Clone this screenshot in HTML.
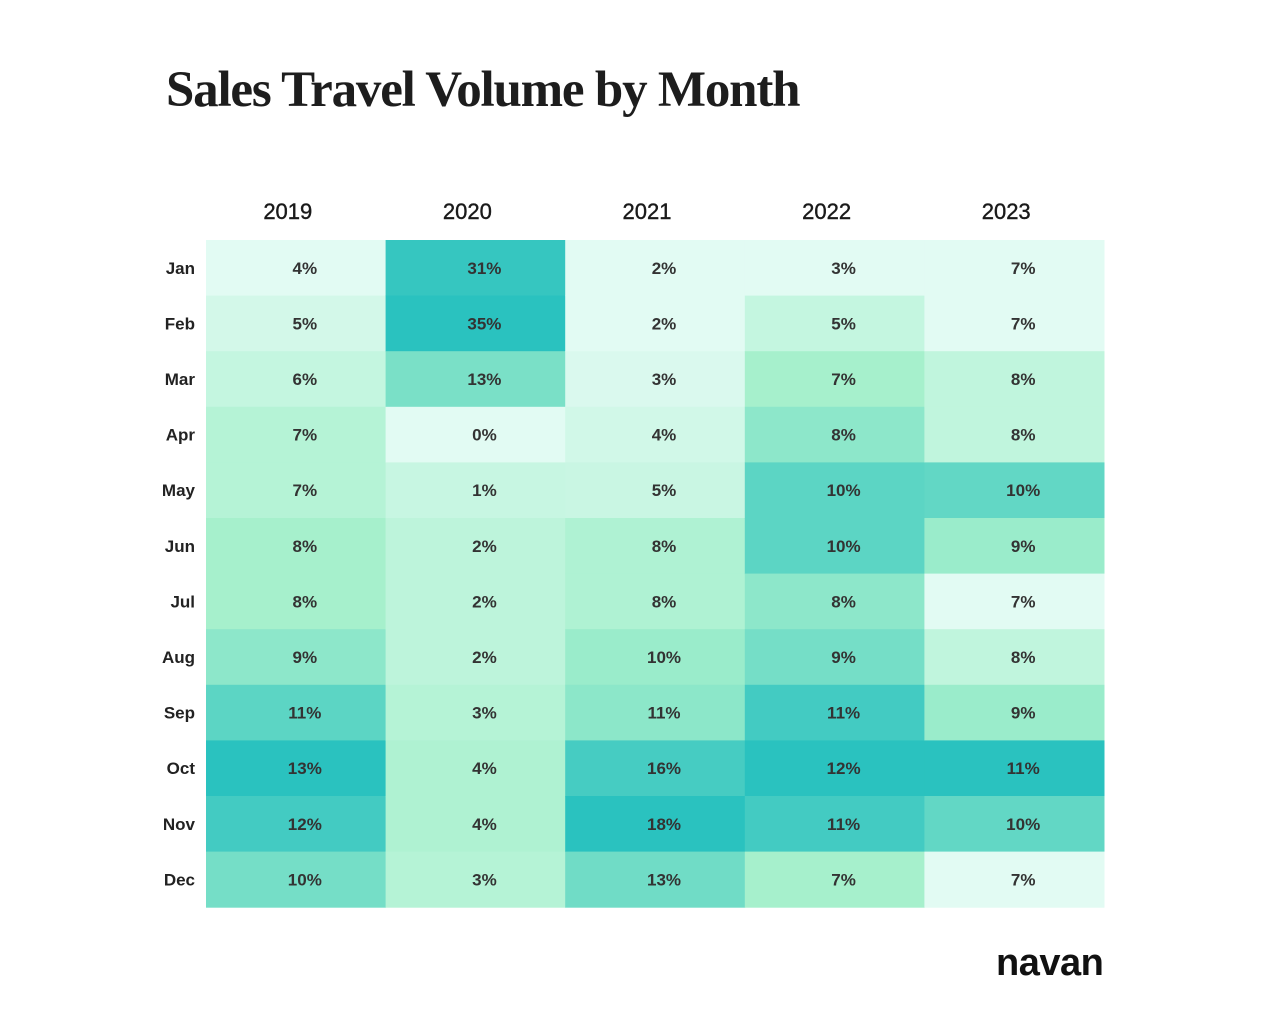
<!DOCTYPE html>
<html><head><meta charset="utf-8"><style>
body{margin:0;background:#fff;width:1268px;height:1021px;overflow:hidden;font-family:"Liberation Sans",sans-serif}
#title{position:absolute;left:166px;top:61px;font-family:"Liberation Serif",serif;font-weight:bold;font-size:51px;letter-spacing:-1.2px;color:#1d1d1d;margin:0}
#logo{position:absolute;left:996px;top:942px;font-size:38px;font-weight:bold;letter-spacing:-0.5px;color:#111}
</style></head><body>
<h1 id="title">Sales Travel Volume by Month</h1>
<svg id="chart" width="1268" height="1021" style="position:absolute;left:0;top:0"></svg>
<div id="logo">navan</div>
<script>
const years=["2019","2020","2021","2022","2023"];
const months=["Jan","Feb","Mar","Apr","May","Jun","Jul","Aug","Sep","Oct","Nov","Dec"];
const v2019=[4,5,6,7,7,8,8,9,11,13,12,10];
const v2020=[31,35,13,0,1,2,2,2,3,4,4,3];
const v2021=[2,2,3,4,5,8,8,10,11,16,18,13];
const v2022=[3,5,7,8,10,10,8,9,11,12,11,7];
const v2023=[7,7,8,8,10,9,7,8,9,11,10,7];
const series=[v2019,v2020,v2021,v2022,v2023];
const gammas=[1,0.45,1,1,1];
const NS="http://www.w3.org/2000/svg";
const svg=document.getElementById('chart');
const x0=206,cw=179.6,y0=240,rh=55.6;
const xPos=i=>x0+i*cw, yPos=j=>y0+j*rh;
function lerp(a,b,t){return a.map((c,i)=>Math.round(c+(b[i]-c)*t));}
const c0=[226,251,243],c1=[165,240,204],c2=[42,194,191];
function color(t){const c=t<0.45?lerp(c0,c1,t/0.45):lerp(c1,c2,(t-0.45)/0.55);return `rgb(${c})`;}
function mk(tag,attrs){const e=document.createElementNS(NS,tag);for(const k in attrs)e.setAttribute(k,attrs[k]);svg.appendChild(e);return e;}
years.forEach((y,i)=>{
  const t=mk('text',{x:xPos(i)+cw/2-8,y:219,'text-anchor':'middle','font-size':22,'fill':'#1a1a1a','stroke':'#1a1a1a','stroke-width':0.4,'font-family':'Liberation Sans, sans-serif'});
  t.textContent=y;
  
  
});
months.forEach((m,j)=>{
  const t=mk('text',{x:195,y:yPos(j)+rh/2+6,'text-anchor':'end','font-size':17,'font-weight':'bold','fill':'#222','font-family':'Liberation Sans, sans-serif'});
  t.textContent=m;
  
  
});
series.forEach((vals,i)=>{
  const mn=Math.min(...vals),mx=Math.max(...vals);
  vals.forEach((v,j)=>{
    const t0=Math.pow((v-mn)/(mx-mn||1),gammas[i]);
    const r=mk('rect',{x:xPos(i),y:yPos(j),width:cw+0.5,height:rh+0.5,fill:color(t0)});
    
    
    const t=mk('text',{x:xPos(i)+cw/2+9,y:yPos(j)+rh/2+6,'text-anchor':'middle','font-size':17,'font-weight':'bold','fill':'#333','font-family':'Liberation Sans, sans-serif'});
    t.textContent=v+'%';
    
    
  });
});
</script>
</body></html>
